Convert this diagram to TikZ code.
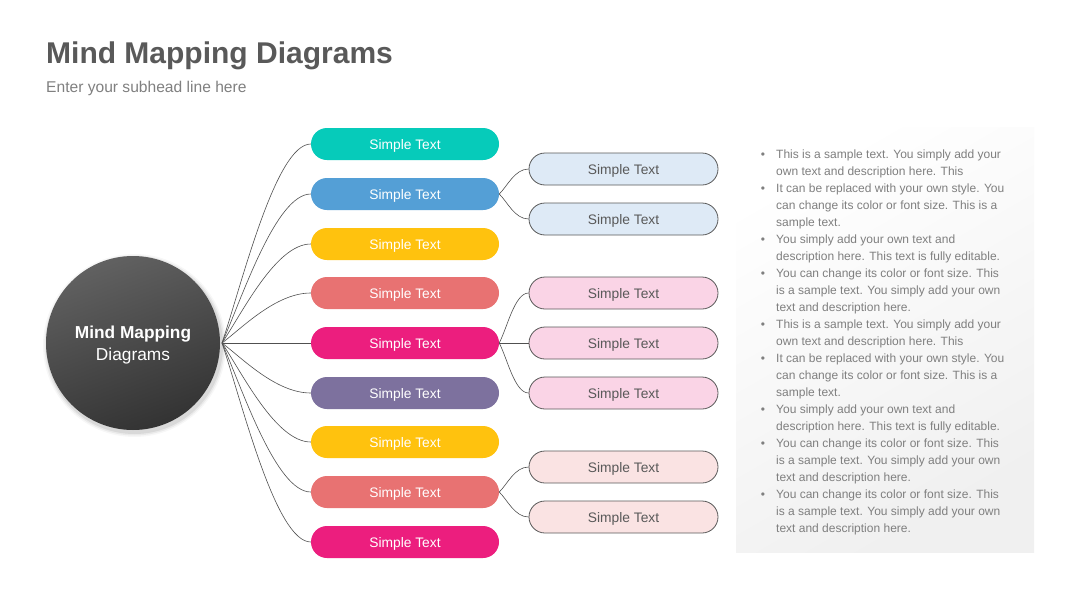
\documentclass[tikz,border=0pt]{standalone}
\usepackage{fontspec}
\setmainfont{Liberation Sans}
\usetikzlibrary{calc}
\definecolor{titlegray}{HTML}{595959}
\definecolor{subgray}{HTML}{808080}
\definecolor{bodygray}{HTML}{7F7F7F}
\definecolor{linegray}{HTML}{505050}
\definecolor{cteal}{HTML}{06CBBA}
\definecolor{cblue}{HTML}{549FD6}
\definecolor{cyellow}{HTML}{FFC20E}
\definecolor{csalmon}{HTML}{E87272}
\definecolor{cmagenta}{HTML}{EC1E7E}
\definecolor{cpurple}{HTML}{7D719E}
\definecolor{flblue}{HTML}{DEEAF6}
\definecolor{flpink}{HTML}{FAD4E6}
\definecolor{flrose}{HTML}{FAE3E3}
\definecolor{pillborder}{HTML}{5A5A5A}
\tikzset{
  mainpill/.style={rounded corners=16pt, minimum width=188pt, minimum height=32pt, inner sep=0pt, text depth=0pt, text=white, font=\fontsize{13.8}{16}\selectfont},
  subpill/.style={rounded corners=16pt, minimum width=189pt, minimum height=32pt, inner sep=0pt, text depth=0pt, draw=pillborder, line width=0.8pt, text=titlegray, font=\fontsize{13.8}{16}\selectfont},
  link/.style={draw=linegray, line width=0.6pt},
  bodytext/.style={anchor=base west, inner sep=0pt, align=left, text=bodygray, font=\fontsize{12}{17}\selectfont},
  bulletdot/.style={anchor=base, inner sep=0pt, text=bodygray, font=\fontsize{12}{17}\selectfont}
}
\begin{document}
\begin{tikzpicture}[x=1pt,y=-1pt]
\useasboundingbox (0,0) rectangle (1080,608);
\fill[white] (0,0) rectangle (1080,608);

% title
\node[anchor=base west, inner sep=0pt, text=titlegray, font=\fontsize{30}{36}\selectfont\bfseries] (title) at (46,63) {Mind Mapping Diagrams};
\node[anchor=base west, inner sep=0pt, text=subgray, font=\fontsize{15.6}{19}\selectfont] (subtitle) at (46,92) {Enter your subhead line here};

% right panel
\shade[shading=axis, top color=white, bottom color=black!6, shading angle=30] (736,127) rectangle (1034,552);

% circle shadow
\foreach \r/\o in {91.5/0.03, 90/0.05, 88.5/0.07} {
  \fill[black, opacity=\o] (134.5,345.5) circle (\r);
}
\node[circle, minimum size=174pt, inner sep=0pt, shading=axis, top color=black!62, bottom color=black!80, shading angle=20] (c) at (133,343) {};
\node[text=white, align=center, inner sep=0pt, font=\fontsize{17.3}{22}\selectfont] (ct) at (133,345.5) {\textbf{Mind Mapping}\\Diagrams};
\coordinate (co) at (222,343);

% left pills
\node[mainpill, fill=cteal]    (l1) at (405,144) {Simple Text};
\node[mainpill, fill=cblue]    (l2) at (405,194) {Simple Text};
\node[mainpill, fill=cyellow]  (l3) at (405,244) {Simple Text};
\node[mainpill, fill=csalmon]  (l4) at (405,293) {Simple Text};
\node[mainpill, fill=cmagenta] (l5) at (405,343) {Simple Text};
\node[mainpill, fill=cpurple]  (l6) at (405,393) {Simple Text};
\node[mainpill, fill=cyellow]  (l7) at (405,442) {Simple Text};
\node[mainpill, fill=csalmon]  (l8) at (405,492) {Simple Text};
\node[mainpill, fill=cmagenta] (l9) at (405,542) {Simple Text};

% right pills
\node[subpill, fill=flblue] (r1) at (623.5,169) {Simple Text};
\node[subpill, fill=flblue] (r2) at (623.5,219) {Simple Text};
\node[subpill, fill=flpink] (r3) at (623.5,293) {Simple Text};
\node[subpill, fill=flpink] (r4) at (623.5,343) {Simple Text};
\node[subpill, fill=flpink] (r5) at (623.5,393) {Simple Text};
\node[subpill, fill=flrose] (r6) at (623.5,467) {Simple Text};
\node[subpill, fill=flrose] (r7) at (623.5,517) {Simple Text};

% connectors from the circle
\foreach \n/\dy in {l1/-199, l2/-149, l3/-99, l4/-50, l6/50, l7/99, l8/149, l9/199} {
  \draw[link] (co) .. controls +(20,0.3*\dy) and +(-35,0) .. (\n.west);
}
\draw[link] (co) -- (l5.west);

% secondary connectors
\foreach \a/\b/\dy in {l2/r1/-25, l2/r2/25, l5/r3/-50, l5/r5/50, l8/r6/-25, l8/r7/25} {
  \draw[link] (\a.east) .. controls +(8,0.3*\dy) and +(-14,0) .. (\b.west);
}
\draw[link] (l5.east) -- (r4.west);

% bullet text (base anchor = baseline of the last line)
\node[bulletdot] (b1d) at (763,158) {•};
\node[bodytext] (b1) at (776,175) {This is a sample text. You simply add your\\own text and description here. This};
\node[bulletdot] (b2d) at (763,192) {•};
\node[bodytext] (b2) at (776,226) {It can be replaced with your own style. You\\can change its color or font size. This is a\\sample text.};
\node[bulletdot] (b3d) at (763,243) {•};
\node[bodytext] (b3) at (776,260) {You simply add your own text and\\description here. This text is fully editable.};
\node[bulletdot] (b4d) at (763,277) {•};
\node[bodytext] (b4) at (776,311) {You can change its color or font size. This\\is a sample text. You simply add your own\\text and description here.};
\node[bulletdot] (b5d) at (763,328) {•};
\node[bodytext] (b5) at (776,345) {This is a sample text. You simply add your\\own text and description here. This};
\node[bulletdot] (b6d) at (763,362) {•};
\node[bodytext] (b6) at (776,396) {It can be replaced with your own style. You\\can change its color or font size. This is a\\sample text.};
\node[bulletdot] (b7d) at (763,413) {•};
\node[bodytext] (b7) at (776,430) {You simply add your own text and\\description here. This text is fully editable.};
\node[bulletdot] (b8d) at (763,447) {•};
\node[bodytext] (b8) at (776,481) {You can change its color or font size. This\\is a sample text. You simply add your own\\text and description here.};
\node[bulletdot] (b9d) at (763,498) {•};
\node[bodytext] (b9) at (776,532) {You can change its color or font size. This\\is a sample text. You simply add your own\\text and description here.};
\end{tikzpicture}
\end{document}
